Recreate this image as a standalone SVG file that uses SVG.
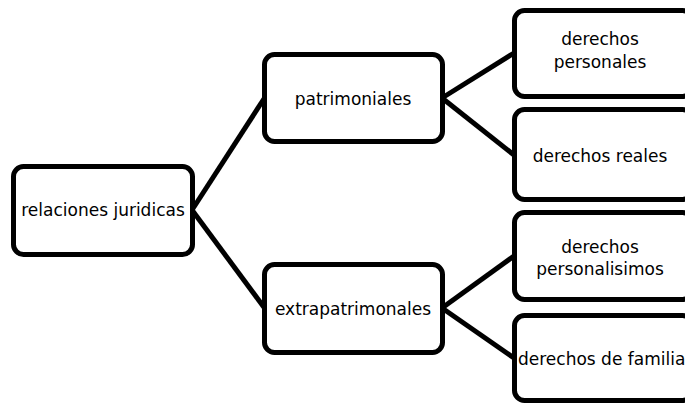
<svg xmlns="http://www.w3.org/2000/svg" width="685" height="406" viewBox="0 0 685 406">
<style>
.box{fill:#fff;stroke:#000;stroke-width:5;}
.lbl{font-family:"DejaVu Sans","Liberation Sans",sans-serif;font-size:17px;fill:#000;text-anchor:middle;}
.con{stroke:#000;stroke-width:5;fill:none;}
</style>
<rect width="685" height="406" fill="#fff"/>
<g id="connectors">
<line class="con" x1="192" y1="210" x2="264.5" y2="98"/>
<line class="con" x1="192" y1="210" x2="264.5" y2="308"/>
<line class="con" x1="442" y1="98" x2="514" y2="53"/>
<line class="con" x1="442" y1="98" x2="514" y2="155"/>
<line class="con" x1="442" y1="308" x2="514" y2="256"/>
<line class="con" x1="442" y1="308" x2="514" y2="358"/>
</g>
<g id="n-relaciones">
<rect class="box" x="13.5" y="166.5" width="179" height="88" rx="10"/>
<text class="lbl" x="103" y="216">relaciones juridicas</text>
</g>
<g id="n-patrimoniales">
<rect class="box" x="264.5" y="54.5" width="178" height="87" rx="10"/>
<text class="lbl" x="353" y="105">patrimoniales</text>
</g>
<g id="n-extrapatrimonales">
<rect class="box" x="264.5" y="264.5" width="178" height="88" rx="10"/>
<text class="lbl" x="353" y="315">extrapatrimonales</text>
</g>
<g id="n-personales">
<rect class="box" x="514.5" y="10.5" width="178" height="86" rx="10"/>
<text class="lbl" x="600" y="45">derechos</text>
<text class="lbl" x="600" y="68">personales</text>
</g>
<g id="n-reales">
<rect class="box" x="514.5" y="109.5" width="178" height="90" rx="10"/>
<text class="lbl" x="600" y="162">derechos reales</text>
</g>
<g id="n-personalisimos">
<rect class="box" x="514.5" y="212.5" width="178" height="87" rx="10"/>
<text class="lbl" x="600" y="253">derechos</text>
<text class="lbl" x="600" y="275">personalisimos</text>
</g>
<g id="n-familia">
<rect class="box" x="514.5" y="315.5" width="178" height="85" rx="10"/>
<text class="lbl" x="518" y="365" style="text-anchor:start">derechos de familia</text>
</g>
</svg>
